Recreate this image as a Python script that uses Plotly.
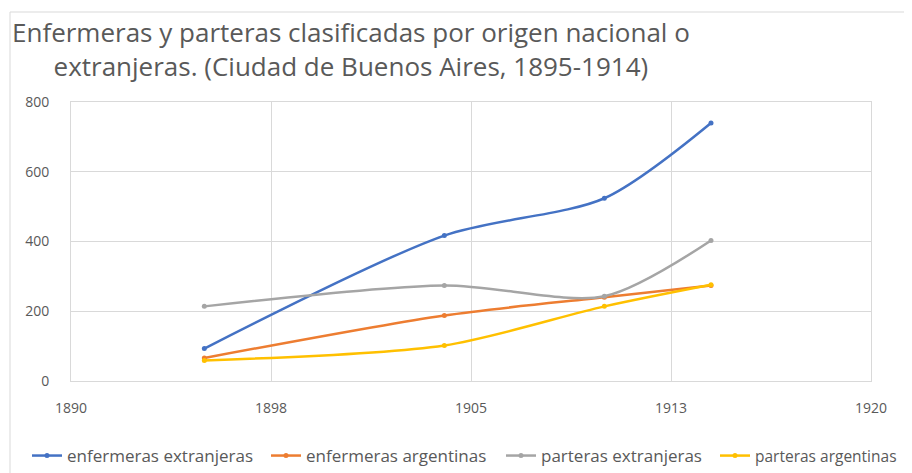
import plotly.graph_objects as go

years = [1895, 1904, 1910, 1914]
enfermeras_extranjeras = [93, 417, 524, 740]
enfermeras_argentinas = [66, 188, 240, 274]
parteras_extranjeras = [214, 274, 243, 403]
parteras_argentinas = [59, 102, 214, 276]

series_names = ["enfermeras extranjeras", "enfermeras argentinas",
                "parteras extranjeras", "parteras argentinas"]
series_values = [enfermeras_extranjeras, enfermeras_argentinas,
                 parteras_extranjeras, parteras_argentinas]
colors = ["#4472C4", "#ED7D31", "#A5A5A5", "#FFC000"]

x_tickvals = [1890, 1897.5, 1905, 1912.5, 1920]
x_ticktext = ["1890", "1898", "1905", "1913", "1920"]
y_tickvals = [0, 200, 400, 600, 800]

title_text = ("Enfermeras y parteras clasificadas por origen nacional o<br>"
              "extranjeras. (Ciudad de Buenos Aires, 1895-1914)")

FONT = "Open Sans, sans-serif"
W, H = 912, 473
# page body has an 8px margin; figure coordinates below compensate for it
L, T, R, B = 63, 94, 863, 373
PW, PH = R - L, B - T
legend_px = [19, 258, 493, 707]
legend_font = [17, 17, 17, 15.5]
legend_y_px = 448

fig = go.Figure()
legend_ids = ["legend", "legend2", "legend3", "legend4"]
for name, vals, col, lid in zip(series_names, series_values, colors, legend_ids):
    fig.add_trace(go.Scatter(
        x=years, y=vals, name=name, mode="lines+markers",
        line=dict(color=col, width=2.5, shape="spline", smoothing=0.8),
        marker=dict(color=col, size=5), legend=lid,
    ))

legend_layouts = {}
for lid, px, fs in zip(legend_ids, legend_px, legend_font):
    legend_layouts[lid] = dict(
        orientation="h", xref="container", yref="container",
        x=px / W, xanchor="left", y=(H - legend_y_px) / H, yanchor="middle",
        font=dict(size=fs, color="#595959"), bgcolor="rgba(0,0,0,0)",
    )

grid = "#d9d9d9"
fig.update_layout(
    width=W, height=H,
    margin=dict(l=L, r=W - R, t=T, b=H - B, autoexpand=False),
    paper_bgcolor="white", plot_bgcolor="white",
    font=dict(family=FONT, color="#595959", size=14),
    showlegend=True,
    xaxis=dict(range=[1890, 1920], tickvals=x_tickvals, ticktext=x_ticktext,
               showgrid=True, gridcolor=grid, gridwidth=1, automargin=False,
               showline=True, linecolor=grid, linewidth=1, mirror=True,
               zeroline=False, ticks="", ticklabelstandoff=14,
               tickfont=dict(size=14, color="#595959")),
    yaxis=dict(range=[0, 800], tickvals=y_tickvals, automargin=False,
               showgrid=True, gridcolor=grid, gridwidth=1,
               showline=True, linecolor=grid, linewidth=1, mirror=True,
               zeroline=False, ticks="", ticklabelstandoff=18,
               tickfont=dict(size=14, color="#595959")),
    shapes=[dict(type="rect", xref="paper", yref="paper",
                 x0=(2 - L) / PW, x1=1.2, y0=-0.5, y1=(B - 4) / PH,
                 line=dict(color="#d9d9d9", width=1))],
    annotations=[dict(text=title_text, xref="paper", yref="paper",
                      x=(2 - L) / PW, y=(B - 4) / PH,
                      xanchor="left", yanchor="top",
                      align="center", showarrow=False,
                      font=dict(family=FONT, size=26, color="#595959"))],
    **legend_layouts,
)

fig.write_html("out.html")
